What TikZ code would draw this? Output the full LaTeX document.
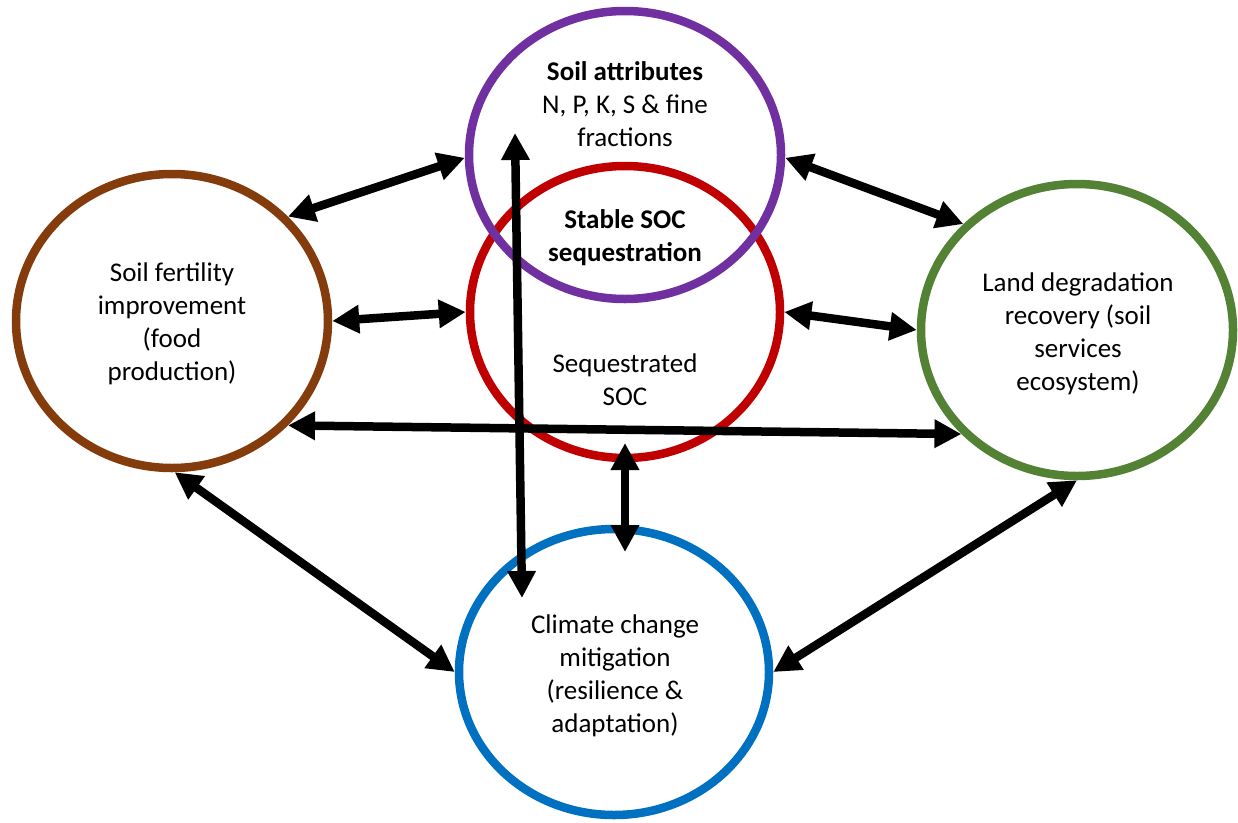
\documentclass[tikz,border=0pt]{standalone}
\usepackage{fontspec}
\setmainfont{Carlito}
\usetikzlibrary{arrows.meta,shapes.geometric}
\definecolor{cpurple}{HTML}{7030A0}
\definecolor{cred}{HTML}{C00000}
\definecolor{cbrown}{HTML}{843C0C}
\definecolor{cgreen}{HTML}{548235}
\definecolor{cblue}{HTML}{0070C0}
\begin{document}
\begin{tikzpicture}[x=1pt,y=-1pt,
  ring/.style={ellipse,draw,line width=8.5pt,inner sep=0pt},
  lbl/.style={align=center,inner sep=0pt,font=\fontsize{27}{33}\selectfont},
  biarr/.style={line width=8.5pt,{Triangle[length=27pt,width=27pt]}-{Triangle[length=27pt,width=27pt]}}]
\useasboundingbox (0,0) rectangle (1238,822);
% circles
\node[ring,draw=cred,minimum width=310pt,minimum height=292pt] (red) at (625,312) {};
\node[ring,draw=cpurple,minimum width=312pt,minimum height=288pt] (purple) at (625,155) {};
\node[ring,draw=cbrown,minimum width=312pt,minimum height=294pt] (brown) at (172,321) {};
\node[ring,draw=cgreen,minimum width=312pt,minimum height=292pt] (green) at (1077,330) {};
\node[ring,draw=cblue,minimum width=310pt,minimum height=286pt] (blue) at (614,672) {};
% free ends
\coordinate (vtop) at (515,133);
\coordinate (vbot) at (522,598);
\coordinate (rbtop) at (625,443);
\coordinate (rbbot) at (625,552);
% connectors
\draw[biarr] (brown.42.7) -- (purple.181.1);
\draw[biarr] (brown.0.4) -- (red.180);
\draw[biarr] (brown.-42.1) -- (green.222.6);
\draw[biarr] (purple.-1.1) -- (green.137.1);
\draw[biarr] (red.0) -- (green.180);
\draw[biarr] (brown.-89.6) -- (blue.180);
\draw[biarr] (green.-90) -- (blue.0.7);
\draw[biarr] (vtop) -- (vbot);
\draw[biarr] (rbtop) -- (rbbot);
% texts
\node[lbl] (tpurple) at (625,104) {\textbf{Soil attributes}\\N, P, K, S \& fine\\fractions};
\node[lbl] (tstable) at (625,238) {\textbf{Stable SOC}\\\textbf{sequestration}};
\node[lbl] (tred) at (625,380) {Sequestrated\\SOC};
\node[lbl] (tbrown) at (172,324) {Soil fertility\\improvement\\(food\\production)};
\node[lbl] (tgreen) at (1078,334) {Land degradation\\recovery (soil\\services\\ecosystem)};
\node[lbl] (tblue) at (615,676) {Climate change\\mitigation\\(resilience \&\\adaptation)};
\end{tikzpicture}
\end{document}
